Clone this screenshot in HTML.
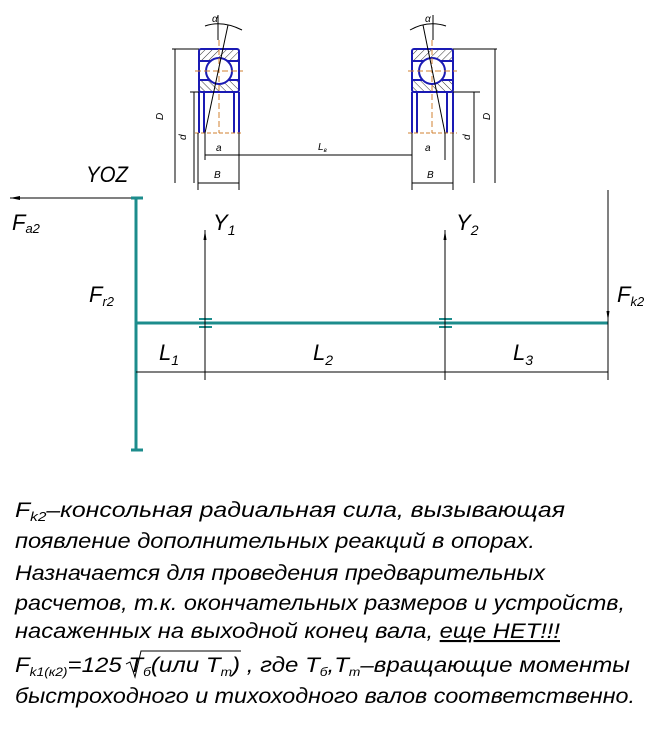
<!DOCTYPE html>
<html><head><meta charset="utf-8"><style>
html,body{margin:0;padding:0;background:#fff;}
svg{display:block}
text{font-family:"Liberation Sans","DejaVu Sans",sans-serif;font-style:italic;fill:#000}
</style></head><body>
<svg width="657" height="734" viewBox="0 0 657 734" xmlns="http://www.w3.org/2000/svg">
<defs>
<pattern id="h" width="5" height="5" patternUnits="userSpaceOnUse" patternTransform="rotate(45)"><line x1="0" y1="0" x2="0" y2="5" stroke="#000" stroke-width="0.8"/></pattern>
<pattern id="h2" width="5" height="5" patternUnits="userSpaceOnUse" patternTransform="rotate(-45)"><line x1="0" y1="0" x2="0" y2="5" stroke="#000" stroke-width="0.8"/></pattern>
</defs>
<!-- Left bearing -->
<g stroke-width="1">
<rect x="199" y="49" width="40" height="12" fill="url(#h)" stroke="none"/>
<rect x="199" y="80" width="40" height="12" fill="url(#h2)" stroke="none"/>
<rect x="199" y="49" width="40" height="43" fill="none" stroke="#1a1ab4" stroke-width="2" rx="2"/>
<line x1="199" y1="61" x2="239" y2="61" stroke="#1a1ab4" stroke-width="2"/>
<line x1="199" y1="80" x2="239" y2="80" stroke="#1a1ab4" stroke-width="2"/>
<circle cx="219" cy="71" r="13" fill="#fff" stroke="#1a1ab4" stroke-width="2"/>
<line x1="199" y1="92" x2="199" y2="133" stroke="#1a1ab4" stroke-width="2"/>
<line x1="204" y1="92" x2="204" y2="133" stroke="#1a1ab4" stroke-width="2"/>
<line x1="234" y1="92" x2="234" y2="133" stroke="#1a1ab4" stroke-width="2"/>
<line x1="239" y1="92" x2="239" y2="133" stroke="#1a1ab4" stroke-width="2"/>
<line x1="219" y1="40" x2="219" y2="133" stroke="#d08030" stroke-dasharray="6,3"/>
<line x1="195" y1="71" x2="243" y2="71" stroke="#d08030" stroke-dasharray="6,3"/>
<line x1="195" y1="133" x2="243" y2="133" stroke="#d08030" stroke-dasharray="4,2"/>
<line x1="228" y1="25" x2="205" y2="133" stroke="#000"/>
<line x1="218" y1="15" x2="218" y2="40" stroke="#000"/>
<path d="M205 26 Q222 20 242 30" fill="none" stroke="#000"/>
<line x1="172" y1="49" x2="199" y2="49" stroke="#000"/>
<line x1="175" y1="49" x2="175" y2="183" stroke="#000"/>
<line x1="190" y1="92" x2="199" y2="92" stroke="#000"/>
<line x1="194" y1="92" x2="194" y2="183" stroke="#000"/>
<line x1="198" y1="133" x2="198" y2="190" stroke="#000"/>
<line x1="239" y1="133" x2="239" y2="190" stroke="#000"/>
<line x1="205" y1="133" x2="205" y2="160" stroke="#000"/>
<line x1="198" y1="183" x2="239" y2="183" stroke="#000"/>
<line x1="205" y1="155" x2="412" y2="155" stroke="#000"/>
</g>
<text x="212" y="22" font-size="10">α</text>
<text x="163" y="120" font-size="10" transform="rotate(-90 163 120)">D</text>
<text x="186" y="140" font-size="10" transform="rotate(-90 186 140)">d</text>
<text x="216" y="151" font-size="10">a</text>
<text x="214" y="178" font-size="10">B</text>
<text x="318" y="150" font-size="10">L<tspan font-size="6" dy="2">в</tspan></text>
<!-- Right bearing -->
<g stroke-width="1">
<rect x="412" y="49" width="41" height="12" fill="url(#h)" stroke="none"/>
<rect x="412" y="80" width="41" height="12" fill="url(#h2)" stroke="none"/>
<rect x="412" y="49" width="41" height="43" fill="none" stroke="#1a1ab4" stroke-width="2" rx="2"/>
<line x1="412" y1="61" x2="453" y2="61" stroke="#1a1ab4" stroke-width="2"/>
<line x1="412" y1="80" x2="453" y2="80" stroke="#1a1ab4" stroke-width="2"/>
<circle cx="432" cy="71" r="13" fill="#fff" stroke="#1a1ab4" stroke-width="2"/>
<line x1="412" y1="92" x2="412" y2="133" stroke="#1a1ab4" stroke-width="2"/>
<line x1="417" y1="92" x2="417" y2="133" stroke="#1a1ab4" stroke-width="2"/>
<line x1="447" y1="92" x2="447" y2="133" stroke="#1a1ab4" stroke-width="2"/>
<line x1="453" y1="92" x2="453" y2="133" stroke="#1a1ab4" stroke-width="2"/>
<line x1="432" y1="40" x2="432" y2="133" stroke="#d08030" stroke-dasharray="6,3"/>
<line x1="408" y1="71" x2="457" y2="71" stroke="#d08030" stroke-dasharray="6,3"/>
<line x1="408" y1="133" x2="457" y2="133" stroke="#d08030" stroke-dasharray="4,2"/>
<line x1="423" y1="25" x2="445" y2="133" stroke="#000"/>
<line x1="433" y1="15" x2="433" y2="40" stroke="#000"/>
<path d="M410 30 Q428 20 446 26" fill="none" stroke="#000"/>
<line x1="453" y1="49" x2="497" y2="49" stroke="#000"/>
<line x1="495" y1="49" x2="495" y2="183" stroke="#000"/>
<line x1="453" y1="92" x2="480" y2="92" stroke="#000"/>
<line x1="474" y1="92" x2="474" y2="183" stroke="#000"/>
<line x1="412" y1="133" x2="412" y2="190" stroke="#000"/>
<line x1="453" y1="133" x2="453" y2="190" stroke="#000"/>
<line x1="445" y1="133" x2="445" y2="160" stroke="#000"/>
<line x1="412" y1="183" x2="453" y2="183" stroke="#000"/>
</g>
<text x="425" y="22" font-size="10">α</text>
<text x="490" y="120" font-size="10" transform="rotate(-90 490 120)">D</text>
<text x="470" y="140" font-size="10" transform="rotate(-90 470 140)">d</text>
<text x="425" y="151" font-size="10">a</text>
<text x="427" y="178" font-size="10">B</text>
<!-- Scheme -->
<text x="86" y="182" font-size="22" textLength="42" lengthAdjust="spacingAndGlyphs">YOZ</text>
<line x1="10" y1="198" x2="136" y2="198" stroke="#000"/>
<path d="M10 198 l10 -2 v4z" fill="#000"/>
<text x="12" y="230" font-size="22">F<tspan font-size="13" dy="3">a2</tspan></text>
<line x1="136" y1="198" x2="136" y2="450" stroke="#1d8c8c" stroke-width="3"/>
<line x1="131" y1="198" x2="143" y2="198" stroke="#1d8c8c" stroke-width="3"/>
<line x1="131" y1="450" x2="143" y2="450" stroke="#1d8c8c" stroke-width="3"/>
<line x1="136" y1="323" x2="608" y2="323" stroke="#1d8c8c" stroke-width="3"/>
<line x1="199" y1="319" x2="212" y2="319" stroke="#1d8c8c" stroke-width="2"/>
<line x1="199" y1="327" x2="212" y2="327" stroke="#1d8c8c" stroke-width="2"/>
<line x1="439" y1="319" x2="452" y2="319" stroke="#1d8c8c" stroke-width="2"/>
<line x1="439" y1="327" x2="452" y2="327" stroke="#1d8c8c" stroke-width="2"/>
<text x="89" y="302" font-size="22">F<tspan font-size="13" dy="4">r2</tspan></text>
<line x1="205" y1="230" x2="205" y2="380" stroke="#000"/>
<path d="M205 230 l-1.5 10 h3z" fill="#000"/>
<text x="213" y="230" font-size="22">Y<tspan font-size="14" dy="5">1</tspan></text>
<line x1="445" y1="230" x2="445" y2="380" stroke="#000"/>
<path d="M445 230 l-1.5 10 h3z" fill="#000"/>
<text x="456" y="230" font-size="22">Y<tspan font-size="14" dy="5">2</tspan></text>
<line x1="608" y1="190" x2="608" y2="380" stroke="#000"/>
<path d="M608 321 l-1.5 -10 h3z" fill="#000"/>
<text x="617" y="302" font-size="22">F<tspan font-size="13" dy="4">k2</tspan></text>
<line x1="136" y1="372" x2="608" y2="372" stroke="#000"/>
<text x="159" y="360" font-size="22">L<tspan font-size="14" dy="5">1</tspan></text>
<text x="313" y="360" font-size="22">L<tspan font-size="14" dy="5">2</tspan></text>
<text x="513" y="360" font-size="22">L<tspan font-size="14" dy="5">3</tspan></text>
<!-- Text block -->
<g font-size="21">
<text x="15" y="517" textLength="550" lengthAdjust="spacingAndGlyphs">F<tspan font-size="13" dy="4">k2</tspan><tspan dy="-4">–консольная радиальная сила, вызывающая</tspan></text>
<text x="15" y="548" textLength="520" lengthAdjust="spacingAndGlyphs">появление дополнительных реакций в опорах.</text>
<text x="15" y="580" textLength="530" lengthAdjust="spacingAndGlyphs">Назначается для проведения предварительных</text>
<text x="15" y="610" textLength="610" lengthAdjust="spacingAndGlyphs">расчетов, т.к. окончательных размеров и устройств,</text>
<text x="15" y="638" textLength="545" lengthAdjust="spacingAndGlyphs">насаженных на выходной конец вала, <tspan text-decoration="underline">еще НЕТ!!!</tspan></text>
<text x="15" y="672" textLength="615" lengthAdjust="spacingAndGlyphs">F<tspan font-size="12" dy="4">k1(к2)</tspan><tspan dy="-4">=125   T</tspan><tspan font-size="12" dy="4">б</tspan><tspan dy="-4">(или T</tspan><tspan font-size="12" dy="4">т</tspan><tspan dy="-4">) , где T</tspan><tspan font-size="12" dy="4">б</tspan><tspan dy="-4">,T</tspan><tspan font-size="12" dy="4">т</tspan><tspan dy="-4">–вращающие моменты</tspan></text>
<path d="M126 664 l4 -2 l5 15 l6 -26 h100" fill="none" stroke="#000"/>
<text x="15" y="703" textLength="620" lengthAdjust="spacingAndGlyphs">быстроходного и тихоходного валов соответственно.</text>
</g>
</svg>
</body></html>
